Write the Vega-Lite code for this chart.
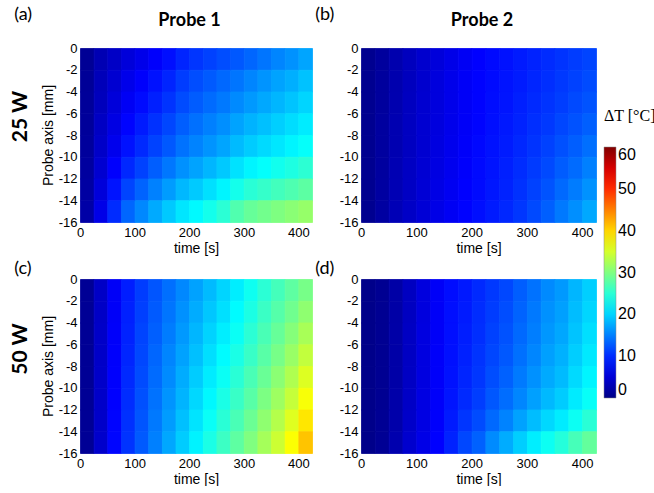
{
"$schema":"https://vega.github.io/schema/vega-lite/v6.json",
"padding":{"left":10,"top":6,"right":0,"bottom":0},
"background":"white",
"datasets":{"heat":[
{"p":"a","t":0,"z":-2,"v":1},{"p":"a","t":0,"z":-4,"v":1.1},{"p":"a","t":0,"z":-6,"v":1.2},{"p":"a","t":0,"z":-8,"v":1.3},{"p":"a","t":0,"z":-10,"v":1.4},{"p":"a","t":0,"z":-12,"v":1.6},{"p":"a","t":0,"z":-14,"v":1.8},{"p":"a","t":0,"z":-16,"v":2},
{"p":"a","t":25,"z":-2,"v":2.8},{"p":"a","t":25,"z":-4,"v":3.2},{"p":"a","t":25,"z":-6,"v":3.4},{"p":"a","t":25,"z":-8,"v":3.8},{"p":"a","t":25,"z":-10,"v":4.1},{"p":"a","t":25,"z":-12,"v":4.6},{"p":"a","t":25,"z":-14,"v":5.2},{"p":"a","t":25,"z":-16,"v":6},
{"p":"a","t":50,"z":-2,"v":4},{"p":"a","t":50,"z":-4,"v":4.7},{"p":"a","t":50,"z":-6,"v":5.2},{"p":"a","t":50,"z":-8,"v":5.8},{"p":"a","t":50,"z":-10,"v":6.4},{"p":"a","t":50,"z":-12,"v":7.4},{"p":"a","t":50,"z":-14,"v":8.6},{"p":"a","t":50,"z":-16,"v":10},
{"p":"a","t":75,"z":-2,"v":5.2},{"p":"a","t":75,"z":-4,"v":6.2},{"p":"a","t":75,"z":-6,"v":6.9},{"p":"a","t":75,"z":-8,"v":7.7},{"p":"a","t":75,"z":-10,"v":8.5},{"p":"a","t":75,"z":-12,"v":9.8},{"p":"a","t":75,"z":-14,"v":11.5},{"p":"a","t":75,"z":-16,"v":13.5},
{"p":"a","t":100,"z":-2,"v":6.2},{"p":"a","t":100,"z":-4,"v":7.3},{"p":"a","t":100,"z":-6,"v":8.1},{"p":"a","t":100,"z":-8,"v":9},{"p":"a","t":100,"z":-10,"v":9.9},{"p":"a","t":100,"z":-12,"v":11.4},{"p":"a","t":100,"z":-14,"v":13.3},{"p":"a","t":100,"z":-16,"v":15.5},
{"p":"a","t":125,"z":-2,"v":7.3},{"p":"a","t":125,"z":-4,"v":8.5},{"p":"a","t":125,"z":-6,"v":9.3},{"p":"a","t":125,"z":-8,"v":10.4},{"p":"a","t":125,"z":-10,"v":11.4},{"p":"a","t":125,"z":-12,"v":13},{"p":"a","t":125,"z":-14,"v":15.1},{"p":"a","t":125,"z":-16,"v":17.5},
{"p":"a","t":150,"z":-2,"v":8.3},{"p":"a","t":150,"z":-4,"v":9.6},{"p":"a","t":150,"z":-6,"v":10.5},{"p":"a","t":150,"z":-8,"v":11.6},{"p":"a","t":150,"z":-10,"v":12.7},{"p":"a","t":150,"z":-12,"v":14.5},{"p":"a","t":150,"z":-14,"v":16.7},{"p":"a","t":150,"z":-16,"v":19.3},
{"p":"a","t":175,"z":-2,"v":9.6},{"p":"a","t":175,"z":-4,"v":11},{"p":"a","t":175,"z":-6,"v":11.9},{"p":"a","t":175,"z":-8,"v":13},{"p":"a","t":175,"z":-10,"v":14.2},{"p":"a","t":175,"z":-12,"v":16},{"p":"a","t":175,"z":-14,"v":18.3},{"p":"a","t":175,"z":-16,"v":21},
{"p":"a","t":200,"z":-2,"v":10.6},{"p":"a","t":200,"z":-4,"v":12},{"p":"a","t":200,"z":-6,"v":12.9},{"p":"a","t":200,"z":-8,"v":14.1},{"p":"a","t":200,"z":-10,"v":15.2},{"p":"a","t":200,"z":-12,"v":17.1},{"p":"a","t":200,"z":-14,"v":19.4},{"p":"a","t":200,"z":-16,"v":22.2},
{"p":"a","t":225,"z":-2,"v":11.3},{"p":"a","t":225,"z":-4,"v":12.8},{"p":"a","t":225,"z":-6,"v":13.8},{"p":"a","t":225,"z":-8,"v":15},{"p":"a","t":225,"z":-10,"v":16.2},{"p":"a","t":225,"z":-12,"v":18.2},{"p":"a","t":225,"z":-14,"v":20.7},{"p":"a","t":225,"z":-16,"v":23.6},
{"p":"a","t":250,"z":-2,"v":12},{"p":"a","t":250,"z":-4,"v":13.6},{"p":"a","t":250,"z":-6,"v":14.6},{"p":"a","t":250,"z":-8,"v":15.9},{"p":"a","t":250,"z":-10,"v":17.2},{"p":"a","t":250,"z":-12,"v":19.3},{"p":"a","t":250,"z":-14,"v":21.9},{"p":"a","t":250,"z":-16,"v":25},
{"p":"a","t":275,"z":-2,"v":12.7},{"p":"a","t":275,"z":-4,"v":14.4},{"p":"a","t":275,"z":-6,"v":15.6},{"p":"a","t":275,"z":-8,"v":17.1},{"p":"a","t":275,"z":-10,"v":18.5},{"p":"a","t":275,"z":-12,"v":20.8},{"p":"a","t":275,"z":-14,"v":23.7},{"p":"a","t":275,"z":-16,"v":27.2},
{"p":"a","t":300,"z":-2,"v":13.5},{"p":"a","t":300,"z":-4,"v":15.3},{"p":"a","t":300,"z":-6,"v":16.5},{"p":"a","t":300,"z":-8,"v":18},{"p":"a","t":300,"z":-10,"v":19.5},{"p":"a","t":300,"z":-12,"v":21.9},{"p":"a","t":300,"z":-14,"v":24.9},{"p":"a","t":300,"z":-16,"v":28.5},
{"p":"a","t":325,"z":-2,"v":14.4},{"p":"a","t":325,"z":-4,"v":16.2},{"p":"a","t":325,"z":-6,"v":17.4},{"p":"a","t":325,"z":-8,"v":18.8},{"p":"a","t":325,"z":-10,"v":20.3},{"p":"a","t":325,"z":-12,"v":22.7},{"p":"a","t":325,"z":-14,"v":25.6},{"p":"a","t":325,"z":-16,"v":29.2},
{"p":"a","t":350,"z":-2,"v":15.3},{"p":"a","t":350,"z":-4,"v":17.1},{"p":"a","t":350,"z":-6,"v":18.2},{"p":"a","t":350,"z":-8,"v":19.7},{"p":"a","t":350,"z":-10,"v":21.1},{"p":"a","t":350,"z":-12,"v":23.5},{"p":"a","t":350,"z":-14,"v":26.4},{"p":"a","t":350,"z":-16,"v":29.9},
{"p":"a","t":375,"z":-2,"v":16.1},{"p":"a","t":375,"z":-4,"v":17.8},{"p":"a","t":375,"z":-6,"v":19},{"p":"a","t":375,"z":-8,"v":20.5},{"p":"a","t":375,"z":-10,"v":21.9},{"p":"a","t":375,"z":-12,"v":24.2},{"p":"a","t":375,"z":-14,"v":27.1},{"p":"a","t":375,"z":-16,"v":30.6},
{"p":"a","t":400,"z":-2,"v":17.2},{"p":"a","t":400,"z":-4,"v":18.9},{"p":"a","t":400,"z":-6,"v":20},{"p":"a","t":400,"z":-8,"v":21.4},{"p":"a","t":400,"z":-10,"v":22.8},{"p":"a","t":400,"z":-12,"v":25.1},{"p":"a","t":400,"z":-14,"v":27.9},{"p":"a","t":400,"z":-16,"v":31.3},
{"p":"b","t":0,"z":-2,"v":0.7},{"p":"b","t":0,"z":-4,"v":0.7},{"p":"b","t":0,"z":-6,"v":0.7},{"p":"b","t":0,"z":-8,"v":0.7},{"p":"b","t":0,"z":-10,"v":0.7},{"p":"b","t":0,"z":-12,"v":0.7},{"p":"b","t":0,"z":-14,"v":0.7},{"p":"b","t":0,"z":-16,"v":0.7},
{"p":"b","t":25,"z":-2,"v":1.5},{"p":"b","t":25,"z":-4,"v":1.5},{"p":"b","t":25,"z":-6,"v":1.5},{"p":"b","t":25,"z":-8,"v":1.6},{"p":"b","t":25,"z":-10,"v":1.6},{"p":"b","t":25,"z":-12,"v":1.6},{"p":"b","t":25,"z":-14,"v":1.7},{"p":"b","t":25,"z":-16,"v":1.7},
{"p":"b","t":50,"z":-2,"v":2.5},{"p":"b","t":50,"z":-4,"v":2.5},{"p":"b","t":50,"z":-6,"v":2.6},{"p":"b","t":50,"z":-8,"v":2.7},{"p":"b","t":50,"z":-10,"v":2.7},{"p":"b","t":50,"z":-12,"v":2.8},{"p":"b","t":50,"z":-14,"v":2.9},{"p":"b","t":50,"z":-16,"v":3},
{"p":"b","t":75,"z":-2,"v":3.5},{"p":"b","t":75,"z":-4,"v":3.5},{"p":"b","t":75,"z":-6,"v":3.6},{"p":"b","t":75,"z":-8,"v":3.7},{"p":"b","t":75,"z":-10,"v":3.7},{"p":"b","t":75,"z":-12,"v":3.8},{"p":"b","t":75,"z":-14,"v":3.9},{"p":"b","t":75,"z":-16,"v":4},
{"p":"b","t":100,"z":-2,"v":4.5},{"p":"b","t":100,"z":-4,"v":4.5},{"p":"b","t":100,"z":-6,"v":4.6},{"p":"b","t":100,"z":-8,"v":4.7},{"p":"b","t":100,"z":-10,"v":4.7},{"p":"b","t":100,"z":-12,"v":4.8},{"p":"b","t":100,"z":-14,"v":4.9},{"p":"b","t":100,"z":-16,"v":5},
{"p":"b","t":125,"z":-2,"v":5.3},{"p":"b","t":125,"z":-4,"v":5.4},{"p":"b","t":125,"z":-6,"v":5.4},{"p":"b","t":125,"z":-8,"v":5.5},{"p":"b","t":125,"z":-10,"v":5.6},{"p":"b","t":125,"z":-12,"v":5.7},{"p":"b","t":125,"z":-14,"v":5.9},{"p":"b","t":125,"z":-16,"v":6},
{"p":"b","t":150,"z":-2,"v":6.1},{"p":"b","t":150,"z":-4,"v":6.2},{"p":"b","t":150,"z":-6,"v":6.2},{"p":"b","t":150,"z":-8,"v":6.3},{"p":"b","t":150,"z":-10,"v":6.4},{"p":"b","t":150,"z":-12,"v":6.5},{"p":"b","t":150,"z":-14,"v":6.7},{"p":"b","t":150,"z":-16,"v":6.8},
{"p":"b","t":175,"z":-2,"v":6.9},{"p":"b","t":175,"z":-4,"v":7},{"p":"b","t":175,"z":-6,"v":7},{"p":"b","t":175,"z":-8,"v":7.1},{"p":"b","t":175,"z":-10,"v":7.2},{"p":"b","t":175,"z":-12,"v":7.3},{"p":"b","t":175,"z":-14,"v":7.5},{"p":"b","t":175,"z":-16,"v":7.6},
{"p":"b","t":200,"z":-2,"v":7.5},{"p":"b","t":200,"z":-4,"v":7.6},{"p":"b","t":200,"z":-6,"v":7.6},{"p":"b","t":200,"z":-8,"v":7.7},{"p":"b","t":200,"z":-10,"v":7.9},{"p":"b","t":200,"z":-12,"v":8},{"p":"b","t":200,"z":-14,"v":8.1},{"p":"b","t":200,"z":-16,"v":8.3},
{"p":"b","t":225,"z":-2,"v":8},{"p":"b","t":225,"z":-4,"v":8.1},{"p":"b","t":225,"z":-6,"v":8.2},{"p":"b","t":225,"z":-8,"v":8.3},{"p":"b","t":225,"z":-10,"v":8.5},{"p":"b","t":225,"z":-12,"v":8.6},{"p":"b","t":225,"z":-14,"v":8.8},{"p":"b","t":225,"z":-16,"v":9},
{"p":"b","t":250,"z":-2,"v":8.5},{"p":"b","t":250,"z":-4,"v":8.6},{"p":"b","t":250,"z":-6,"v":8.7},{"p":"b","t":250,"z":-8,"v":8.9},{"p":"b","t":250,"z":-10,"v":9.1},{"p":"b","t":250,"z":-12,"v":9.3},{"p":"b","t":250,"z":-14,"v":9.5},{"p":"b","t":250,"z":-16,"v":9.8},
{"p":"b","t":275,"z":-2,"v":9},{"p":"b","t":275,"z":-4,"v":9.1},{"p":"b","t":275,"z":-6,"v":9.3},{"p":"b","t":275,"z":-8,"v":9.5},{"p":"b","t":275,"z":-10,"v":9.8},{"p":"b","t":275,"z":-12,"v":10.1},{"p":"b","t":275,"z":-14,"v":10.4},{"p":"b","t":275,"z":-16,"v":10.7},
{"p":"b","t":300,"z":-2,"v":9.5},{"p":"b","t":300,"z":-4,"v":9.7},{"p":"b","t":300,"z":-6,"v":9.9},{"p":"b","t":300,"z":-8,"v":10.2},{"p":"b","t":300,"z":-10,"v":10.5},{"p":"b","t":300,"z":-12,"v":10.9},{"p":"b","t":300,"z":-14,"v":11.3},{"p":"b","t":300,"z":-16,"v":11.8},
{"p":"b","t":325,"z":-2,"v":10},{"p":"b","t":325,"z":-4,"v":10.2},{"p":"b","t":325,"z":-6,"v":10.5},{"p":"b","t":325,"z":-8,"v":10.8},{"p":"b","t":325,"z":-10,"v":11.3},{"p":"b","t":325,"z":-12,"v":11.8},{"p":"b","t":325,"z":-14,"v":12.4},{"p":"b","t":325,"z":-16,"v":13.1},
{"p":"b","t":350,"z":-2,"v":10.5},{"p":"b","t":350,"z":-4,"v":10.8},{"p":"b","t":350,"z":-6,"v":11.1},{"p":"b","t":350,"z":-8,"v":11.6},{"p":"b","t":350,"z":-10,"v":12.2},{"p":"b","t":350,"z":-12,"v":12.9},{"p":"b","t":350,"z":-14,"v":13.7},{"p":"b","t":350,"z":-16,"v":14.6},
{"p":"b","t":375,"z":-2,"v":11},{"p":"b","t":375,"z":-4,"v":11.3},{"p":"b","t":375,"z":-6,"v":11.8},{"p":"b","t":375,"z":-8,"v":12.3},{"p":"b","t":375,"z":-10,"v":13},{"p":"b","t":375,"z":-12,"v":13.8},{"p":"b","t":375,"z":-14,"v":14.8},{"p":"b","t":375,"z":-16,"v":15.9},
{"p":"b","t":400,"z":-2,"v":11.5},{"p":"b","t":400,"z":-4,"v":11.9},{"p":"b","t":400,"z":-6,"v":12.4},{"p":"b","t":400,"z":-8,"v":13.1},{"p":"b","t":400,"z":-10,"v":14},{"p":"b","t":400,"z":-12,"v":15},{"p":"b","t":400,"z":-14,"v":16.1},{"p":"b","t":400,"z":-16,"v":17.4},
{"p":"c","t":0,"z":-2,"v":1},{"p":"c","t":0,"z":-4,"v":1},{"p":"c","t":0,"z":-6,"v":1},{"p":"c","t":0,"z":-8,"v":1},{"p":"c","t":0,"z":-10,"v":1},{"p":"c","t":0,"z":-12,"v":1},{"p":"c","t":0,"z":-14,"v":1},{"p":"c","t":0,"z":-16,"v":1},
{"p":"c","t":25,"z":-2,"v":4},{"p":"c","t":25,"z":-4,"v":4},{"p":"c","t":25,"z":-6,"v":4.1},{"p":"c","t":25,"z":-8,"v":4.1},{"p":"c","t":25,"z":-10,"v":4.2},{"p":"c","t":25,"z":-12,"v":4.2},{"p":"c","t":25,"z":-14,"v":4.2},{"p":"c","t":25,"z":-16,"v":4.3},
{"p":"c","t":50,"z":-2,"v":7},{"p":"c","t":50,"z":-4,"v":7.1},{"p":"c","t":50,"z":-6,"v":7.2},{"p":"c","t":50,"z":-8,"v":7.3},{"p":"c","t":50,"z":-10,"v":7.4},{"p":"c","t":50,"z":-12,"v":7.5},{"p":"c","t":50,"z":-14,"v":7.7},{"p":"c","t":50,"z":-16,"v":7.8},
{"p":"c","t":75,"z":-2,"v":9.2},{"p":"c","t":75,"z":-4,"v":9.4},{"p":"c","t":75,"z":-6,"v":9.5},{"p":"c","t":75,"z":-8,"v":9.7},{"p":"c","t":75,"z":-10,"v":9.9},{"p":"c","t":75,"z":-12,"v":10.1},{"p":"c","t":75,"z":-14,"v":10.3},{"p":"c","t":75,"z":-16,"v":10.5},
{"p":"c","t":100,"z":-2,"v":11},{"p":"c","t":100,"z":-4,"v":11.2},{"p":"c","t":100,"z":-6,"v":11.5},{"p":"c","t":100,"z":-8,"v":11.7},{"p":"c","t":100,"z":-10,"v":11.9},{"p":"c","t":100,"z":-12,"v":12.2},{"p":"c","t":100,"z":-14,"v":12.5},{"p":"c","t":100,"z":-16,"v":12.8},
{"p":"c","t":125,"z":-2,"v":12.5},{"p":"c","t":125,"z":-4,"v":12.8},{"p":"c","t":125,"z":-6,"v":13.1},{"p":"c","t":125,"z":-8,"v":13.5},{"p":"c","t":125,"z":-10,"v":13.8},{"p":"c","t":125,"z":-12,"v":14.2},{"p":"c","t":125,"z":-14,"v":14.6},{"p":"c","t":125,"z":-16,"v":15},
{"p":"c","t":150,"z":-2,"v":14},{"p":"c","t":150,"z":-4,"v":14.4},{"p":"c","t":150,"z":-6,"v":14.8},{"p":"c","t":150,"z":-8,"v":15.3},{"p":"c","t":150,"z":-10,"v":15.7},{"p":"c","t":150,"z":-12,"v":16.2},{"p":"c","t":150,"z":-14,"v":16.7},{"p":"c","t":150,"z":-16,"v":17.3},
{"p":"c","t":175,"z":-2,"v":15.5},{"p":"c","t":175,"z":-4,"v":16},{"p":"c","t":175,"z":-6,"v":16.5},{"p":"c","t":175,"z":-8,"v":17},{"p":"c","t":175,"z":-10,"v":17.6},{"p":"c","t":175,"z":-12,"v":18.1},{"p":"c","t":175,"z":-14,"v":18.8},{"p":"c","t":175,"z":-16,"v":19.5},
{"p":"c","t":200,"z":-2,"v":17},{"p":"c","t":200,"z":-4,"v":17.6},{"p":"c","t":200,"z":-6,"v":18.2},{"p":"c","t":200,"z":-8,"v":18.8},{"p":"c","t":200,"z":-10,"v":19.5},{"p":"c","t":200,"z":-12,"v":20.2},{"p":"c","t":200,"z":-14,"v":20.9},{"p":"c","t":200,"z":-16,"v":21.8},
{"p":"c","t":225,"z":-2,"v":18.5},{"p":"c","t":225,"z":-4,"v":19.2},{"p":"c","t":225,"z":-6,"v":19.9},{"p":"c","t":225,"z":-8,"v":20.6},{"p":"c","t":225,"z":-10,"v":21.4},{"p":"c","t":225,"z":-12,"v":22.1},{"p":"c","t":225,"z":-14,"v":23},{"p":"c","t":225,"z":-16,"v":24},
{"p":"c","t":250,"z":-2,"v":20},{"p":"c","t":250,"z":-4,"v":20.7},{"p":"c","t":250,"z":-6,"v":21.5},{"p":"c","t":250,"z":-8,"v":22.3},{"p":"c","t":250,"z":-10,"v":23.1},{"p":"c","t":250,"z":-12,"v":24},{"p":"c","t":250,"z":-14,"v":24.9},{"p":"c","t":250,"z":-16,"v":26},
{"p":"c","t":275,"z":-2,"v":21.5},{"p":"c","t":275,"z":-4,"v":22.3},{"p":"c","t":275,"z":-6,"v":23.1},{"p":"c","t":275,"z":-8,"v":24},{"p":"c","t":275,"z":-10,"v":24.9},{"p":"c","t":275,"z":-12,"v":25.8},{"p":"c","t":275,"z":-14,"v":26.8},{"p":"c","t":275,"z":-16,"v":28},
{"p":"c","t":300,"z":-2,"v":23.3},{"p":"c","t":300,"z":-4,"v":24.1},{"p":"c","t":300,"z":-6,"v":25},{"p":"c","t":300,"z":-8,"v":25.8},{"p":"c","t":300,"z":-10,"v":26.8},{"p":"c","t":300,"z":-12,"v":27.7},{"p":"c","t":300,"z":-14,"v":28.8},{"p":"c","t":300,"z":-16,"v":30},
{"p":"c","t":325,"z":-2,"v":25},{"p":"c","t":325,"z":-4,"v":25.9},{"p":"c","t":325,"z":-6,"v":26.8},{"p":"c","t":325,"z":-8,"v":27.7},{"p":"c","t":325,"z":-10,"v":28.7},{"p":"c","t":325,"z":-12,"v":29.8},{"p":"c","t":325,"z":-14,"v":30.9},{"p":"c","t":325,"z":-16,"v":32.2},
{"p":"c","t":350,"z":-2,"v":26.5},{"p":"c","t":350,"z":-4,"v":27.5},{"p":"c","t":350,"z":-6,"v":28.5},{"p":"c","t":350,"z":-8,"v":29.5},{"p":"c","t":350,"z":-10,"v":30.7},{"p":"c","t":350,"z":-12,"v":31.8},{"p":"c","t":350,"z":-14,"v":33.1},{"p":"c","t":350,"z":-16,"v":34.5},
{"p":"c","t":375,"z":-2,"v":28},{"p":"c","t":375,"z":-4,"v":29.1},{"p":"c","t":375,"z":-6,"v":30.3},{"p":"c","t":375,"z":-8,"v":31.5},{"p":"c","t":375,"z":-10,"v":32.8},{"p":"c","t":375,"z":-12,"v":34.1},{"p":"c","t":375,"z":-14,"v":35.6},{"p":"c","t":375,"z":-16,"v":37.3},
{"p":"c","t":400,"z":-2,"v":29.5},{"p":"c","t":400,"z":-4,"v":30.9},{"p":"c","t":400,"z":-6,"v":32.4},{"p":"c","t":400,"z":-8,"v":33.9},{"p":"c","t":400,"z":-10,"v":35.5},{"p":"c","t":400,"z":-12,"v":37.1},{"p":"c","t":400,"z":-14,"v":38.9},{"p":"c","t":400,"z":-16,"v":41},
{"p":"d","t":0,"z":-2,"v":0.3},{"p":"d","t":0,"z":-4,"v":0.3},{"p":"d","t":0,"z":-6,"v":0.3},{"p":"d","t":0,"z":-8,"v":0.3},{"p":"d","t":0,"z":-10,"v":0.3},{"p":"d","t":0,"z":-12,"v":0.3},{"p":"d","t":0,"z":-14,"v":0.3},{"p":"d","t":0,"z":-16,"v":0.3},
{"p":"d","t":25,"z":-2,"v":0.8},{"p":"d","t":25,"z":-4,"v":0.8},{"p":"d","t":25,"z":-6,"v":0.8},{"p":"d","t":25,"z":-8,"v":0.8},{"p":"d","t":25,"z":-10,"v":0.8},{"p":"d","t":25,"z":-12,"v":0.8},{"p":"d","t":25,"z":-14,"v":0.9},{"p":"d","t":25,"z":-16,"v":0.9},
{"p":"d","t":50,"z":-2,"v":2},{"p":"d","t":50,"z":-4,"v":2},{"p":"d","t":50,"z":-6,"v":2.1},{"p":"d","t":50,"z":-8,"v":2.1},{"p":"d","t":50,"z":-10,"v":2.1},{"p":"d","t":50,"z":-12,"v":2.2},{"p":"d","t":50,"z":-14,"v":2.3},{"p":"d","t":50,"z":-16,"v":2.5},
{"p":"d","t":75,"z":-2,"v":3.7},{"p":"d","t":75,"z":-4,"v":3.7},{"p":"d","t":75,"z":-6,"v":3.8},{"p":"d","t":75,"z":-8,"v":3.8},{"p":"d","t":75,"z":-10,"v":3.9},{"p":"d","t":75,"z":-12,"v":4},{"p":"d","t":75,"z":-14,"v":4.2},{"p":"d","t":75,"z":-16,"v":4.5},
{"p":"d","t":100,"z":-2,"v":5.5},{"p":"d","t":100,"z":-4,"v":5.5},{"p":"d","t":100,"z":-6,"v":5.6},{"p":"d","t":100,"z":-8,"v":5.6},{"p":"d","t":100,"z":-10,"v":5.6},{"p":"d","t":100,"z":-12,"v":5.7},{"p":"d","t":100,"z":-14,"v":5.8},{"p":"d","t":100,"z":-16,"v":6},
{"p":"d","t":125,"z":-2,"v":7.1},{"p":"d","t":125,"z":-4,"v":7.1},{"p":"d","t":125,"z":-6,"v":7.1},{"p":"d","t":125,"z":-8,"v":7.2},{"p":"d","t":125,"z":-10,"v":7.2},{"p":"d","t":125,"z":-12,"v":7.2},{"p":"d","t":125,"z":-14,"v":7.3},{"p":"d","t":125,"z":-16,"v":7.5},
{"p":"d","t":150,"z":-2,"v":8.2},{"p":"d","t":150,"z":-4,"v":8.3},{"p":"d","t":150,"z":-6,"v":8.3},{"p":"d","t":150,"z":-8,"v":8.4},{"p":"d","t":150,"z":-10,"v":8.5},{"p":"d","t":150,"z":-12,"v":8.7},{"p":"d","t":150,"z":-14,"v":9},{"p":"d","t":150,"z":-16,"v":9.5},
{"p":"d","t":175,"z":-2,"v":8.9},{"p":"d","t":175,"z":-4,"v":9},{"p":"d","t":175,"z":-6,"v":9.2},{"p":"d","t":175,"z":-8,"v":9.4},{"p":"d","t":175,"z":-10,"v":9.6},{"p":"d","t":175,"z":-12,"v":9.9},{"p":"d","t":175,"z":-14,"v":10.6},{"p":"d","t":175,"z":-16,"v":11.7},
{"p":"d","t":200,"z":-2,"v":9.9},{"p":"d","t":200,"z":-4,"v":10.1},{"p":"d","t":200,"z":-6,"v":10.2},{"p":"d","t":200,"z":-8,"v":10.5},{"p":"d","t":200,"z":-10,"v":10.7},{"p":"d","t":200,"z":-12,"v":11.1},{"p":"d","t":200,"z":-14,"v":11.9},{"p":"d","t":200,"z":-16,"v":13.2},
{"p":"d","t":225,"z":-2,"v":10.8},{"p":"d","t":225,"z":-4,"v":11},{"p":"d","t":225,"z":-6,"v":11.3},{"p":"d","t":225,"z":-8,"v":11.6},{"p":"d","t":225,"z":-10,"v":12},{"p":"d","t":225,"z":-12,"v":12.6},{"p":"d","t":225,"z":-14,"v":13.7},{"p":"d","t":225,"z":-16,"v":15.7},
{"p":"d","t":250,"z":-2,"v":11.7},{"p":"d","t":250,"z":-4,"v":12},{"p":"d","t":250,"z":-6,"v":12.3},{"p":"d","t":250,"z":-8,"v":12.7},{"p":"d","t":250,"z":-10,"v":13.2},{"p":"d","t":250,"z":-12,"v":13.9},{"p":"d","t":250,"z":-14,"v":15.2},{"p":"d","t":250,"z":-16,"v":17.6},
{"p":"d","t":275,"z":-2,"v":13},{"p":"d","t":275,"z":-4,"v":13.3},{"p":"d","t":275,"z":-6,"v":13.7},{"p":"d","t":275,"z":-8,"v":14.1},{"p":"d","t":275,"z":-10,"v":14.7},{"p":"d","t":275,"z":-12,"v":15.4},{"p":"d","t":275,"z":-14,"v":17},{"p":"d","t":275,"z":-16,"v":19.6},
{"p":"d","t":300,"z":-2,"v":14.2},{"p":"d","t":300,"z":-4,"v":14.6},{"p":"d","t":300,"z":-6,"v":14.9},{"p":"d","t":300,"z":-8,"v":15.4},{"p":"d","t":300,"z":-10,"v":16},{"p":"d","t":300,"z":-12,"v":16.9},{"p":"d","t":300,"z":-14,"v":18.6},{"p":"d","t":300,"z":-16,"v":21.5},
{"p":"d","t":325,"z":-2,"v":15.6},{"p":"d","t":325,"z":-4,"v":16},{"p":"d","t":325,"z":-6,"v":16.4},{"p":"d","t":325,"z":-8,"v":16.9},{"p":"d","t":325,"z":-10,"v":17.5},{"p":"d","t":325,"z":-12,"v":18.4},{"p":"d","t":325,"z":-14,"v":20.2},{"p":"d","t":325,"z":-16,"v":23.2},
{"p":"d","t":350,"z":-2,"v":16.5},{"p":"d","t":350,"z":-4,"v":16.9},{"p":"d","t":350,"z":-6,"v":17.3},{"p":"d","t":350,"z":-8,"v":17.9},{"p":"d","t":350,"z":-10,"v":18.5},{"p":"d","t":350,"z":-12,"v":19.5},{"p":"d","t":350,"z":-14,"v":21.4},{"p":"d","t":350,"z":-16,"v":24.6},
{"p":"d","t":375,"z":-2,"v":18.2},{"p":"d","t":375,"z":-4,"v":18.6},{"p":"d","t":375,"z":-6,"v":19},{"p":"d","t":375,"z":-8,"v":19.6},{"p":"d","t":375,"z":-10,"v":20.3},{"p":"d","t":375,"z":-12,"v":21.3},{"p":"d","t":375,"z":-14,"v":23.2},{"p":"d","t":375,"z":-16,"v":26.6},
{"p":"d","t":400,"z":-2,"v":19.7},{"p":"d","t":400,"z":-4,"v":20.1},{"p":"d","t":400,"z":-6,"v":20.6},{"p":"d","t":400,"z":-8,"v":21.2},{"p":"d","t":400,"z":-10,"v":21.9},{"p":"d","t":400,"z":-12,"v":22.9},{"p":"d","t":400,"z":-14,"v":24.9},{"p":"d","t":400,"z":-16,"v":28.3}
]},
"config":{
 "view":{"stroke":null},
 "axis":{"grid":false,"domain":false,"ticks":false,"labelFont":"Liberation Sans","labelFontSize":13,"labelColor":"#000","titleFont":"Liberation Sans","titleFontSize":14,"titleFontWeight":"normal","titleColor":"#000"},
 "title":{"font":"Lato","fontSize":18,"fontWeight":"normal","color":"#000"},
 "legend":{"gradientLength":251,"gradientThickness":12,"titleFont":"Liberation Serif","titleFontSize":16,"titleFontWeight":"normal","titleColor":"#000","titlePadding":23,"titleLimit":120,"labelFont":"Liberation Sans","labelFontSize":16,"labelColor":"#000","labelOffset":5,"labelOverlap":false,"gradientStrokeColor":"#888","gradientStrokeWidth":0.5}
},
"spacing":2,
"hconcat":[
 {"title":{"text":"Probe 1","fontWeight":"bold","fontSize":18,"anchor":"middle","offset":-24,"dx":28},
  "spacing":5,
  "vconcat":[
   {"title":{"text":"25 W","orient":"left","anchor":"middle","fontWeight":"bold","fontSize":21,"offset":-14,"dy":3,"dx":14},
    "hconcat":[
     {"width":232,"height":174,"data":{"name":"heat"},
      "title":{"text":"(a)","anchor":"start","frame":"bounds","offset":18,"dx":-27},
      "transform":[{"filter":"datum.p==='a'"}],
      "mark":{"type":"rect","binSpacing":0,"strokeWidth":0.8,"stroke":{"expr":"scale('color', datum.v)"}},
      "encoding":{
       "x":{"field":"t","type":"quantitative","bin":{"binned":true,"step":25},"scale":{"domain":[0,425],"nice":false,"zero":false},"axis":{"values":[0,100,200,300,400],"title":"time [s]","labelPadding":4,"titlePadding":2,"labelFlush":false}},
       "y":{"field":"z","type":"quantitative","bin":{"binned":true,"step":2},"scale":{"domain":[-16,0],"nice":false},"axis":{"values":[0,-2,-4,-6,-8,-10,-12,-14,-16],"title":"Probe axis [mm]","labelPadding":3,"titlePadding":3,"labelExpr":"''+datum.value"}},
       "color":{"field":"v","type":"quantitative","scale":{"domain":[0,7.5,22.5,37.5,52.5,60],"range":["#000085","#0000ff","#00ffff","#ffff00","#ff0000","#800000"],"interpolate":"rgb"},"legend":{"type":"gradient","title":"ΔT [°C]","values":[0,10,20,30,40,50,60],"orient":"none","legendX":524,"legendY":60,"direction":"vertical"}}
      }}
    ]},
   {"title":{"text":"50 W","orient":"left","anchor":"middle","fontWeight":"bold","fontSize":21,"offset":-14,"dy":3,"dx":24},
    "hconcat":[
     {"width":232,"height":174,"data":{"name":"heat"},
      "title":{"text":"(c)","anchor":"start","frame":"bounds","offset":-5,"dx":-27},
      "transform":[{"filter":"datum.p==='c'"}],
      "mark":{"type":"rect","binSpacing":0,"strokeWidth":0.8,"stroke":{"expr":"scale('color', datum.v)"}},
      "encoding":{
       "x":{"field":"t","type":"quantitative","bin":{"binned":true,"step":25},"scale":{"domain":[0,425],"nice":false,"zero":false},"axis":{"values":[0,100,200,300,400],"title":"time [s]","labelPadding":4,"titlePadding":2,"labelFlush":false}},
       "y":{"field":"z","type":"quantitative","bin":{"binned":true,"step":2},"scale":{"domain":[-16,0],"nice":false},"axis":{"values":[0,-2,-4,-6,-8,-10,-12,-14,-16],"title":"Probe axis [mm]","labelPadding":3,"titlePadding":3,"labelExpr":"''+datum.value"}},
       "color":{"field":"v","type":"quantitative","scale":{"domain":[0,7.5,22.5,37.5,52.5,60],"range":["#000085","#0000ff","#00ffff","#ffff00","#ff0000","#800000"],"interpolate":"rgb"},"legend":{"type":"gradient","title":"ΔT [°C]","values":[0,10,20,30,40,50,60],"orient":"none","legendX":524,"legendY":60,"direction":"vertical"}}
      }}
    ]}
  ]},
 {"title":{"text":"Probe 2","fontWeight":"bold","fontSize":18,"anchor":"middle","offset":-24,"dx":26},
  "spacing":5,
  "vconcat":[
   {"width":235,"height":174,"data":{"name":"heat"},
    "title":{"text":"(b)","anchor":"start","frame":"bounds","offset":18,"dx":-24},
    "transform":[{"filter":"datum.p==='b'"}],
    "mark":{"type":"rect","binSpacing":0,"strokeWidth":0.8,"stroke":{"expr":"scale('color', datum.v)"}},
    "encoding":{
     "x":{"field":"t","type":"quantitative","bin":{"binned":true,"step":25},"scale":{"domain":[0,425],"nice":false,"zero":false},"axis":{"values":[0,100,200,300,400],"title":"time [s]","labelPadding":4,"titlePadding":2,"labelFlush":false}},
     "y":{"field":"z","type":"quantitative","bin":{"binned":true,"step":2},"scale":{"domain":[-16,0],"nice":false},"axis":{"values":[0,-2,-4,-6,-8,-10,-12,-14,-16],"title":null,"labelPadding":3,"labelExpr":"''+datum.value"}},
     "color":{"field":"v","type":"quantitative","scale":{"domain":[0,7.5,22.5,37.5,52.5,60],"range":["#000085","#0000ff","#00ffff","#ffff00","#ff0000","#800000"],"interpolate":"rgb"},"legend":{"type":"gradient","title":"ΔT [°C]","values":[0,10,20,30,40,50,60],"orient":"none","legendX":524,"legendY":60,"direction":"vertical"}}
    }},
   {"width":235,"height":174,"data":{"name":"heat"},
    "title":{"text":"(d)","anchor":"start","frame":"bounds","offset":-5,"dx":-24},
    "transform":[{"filter":"datum.p==='d'"}],
    "mark":{"type":"rect","binSpacing":0,"strokeWidth":0.8,"stroke":{"expr":"scale('color', datum.v)"}},
    "encoding":{
     "x":{"field":"t","type":"quantitative","bin":{"binned":true,"step":25},"scale":{"domain":[0,425],"nice":false,"zero":false},"axis":{"values":[0,100,200,300,400],"title":"time [s]","labelPadding":4,"titlePadding":2,"labelFlush":false}},
     "y":{"field":"z","type":"quantitative","bin":{"binned":true,"step":2},"scale":{"domain":[-16,0],"nice":false},"axis":{"values":[0,-2,-4,-6,-8,-10,-12,-14,-16],"title":null,"labelPadding":3,"labelExpr":"''+datum.value"}},
     "color":{"field":"v","type":"quantitative","scale":{"domain":[0,7.5,22.5,37.5,52.5,60],"range":["#000085","#0000ff","#00ffff","#ffff00","#ff0000","#800000"],"interpolate":"rgb"},"legend":{"type":"gradient","title":"ΔT [°C]","values":[0,10,20,30,40,50,60],"orient":"none","legendX":524,"legendY":60,"direction":"vertical"}}
    }}
  ]}
]
}
